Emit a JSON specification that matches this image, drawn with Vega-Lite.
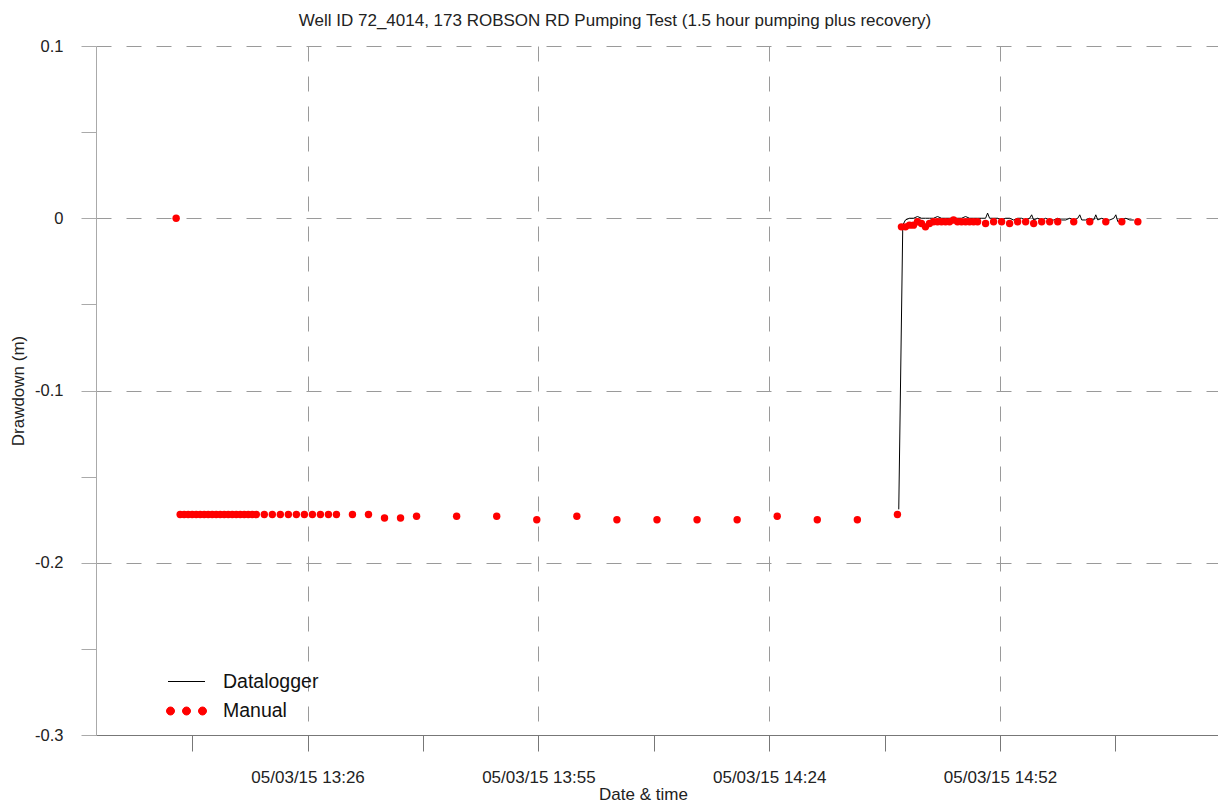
{
  "$schema": "https://vega.github.io/schema/vega-lite/v6.json",
  "autosize": {"type": "none"},
  "padding": {"left": 96, "top": 46, "right": 0, "bottom": 67},
  "width": 1122,
  "height": 689,
  "background": "white",
  "title": {
    "text": "Well ID 72_4014, 173 ROBSON RD Pumping Test (1.5 hour pumping plus recovery)",
    "anchor": "middle",
    "frame": "group",
    "dx": -42,
    "offset": 8,
    "font": "Liberation Sans",
    "fontSize": 17,
    "fontWeight": "normal",
    "color": "#222222"
  },
  "config": {
    "font": "Liberation Sans",
    "view": {"stroke": null},
    "axis": {
      "labelFont": "Liberation Sans",
      "labelFontSize": 16.5,
      "labelColor": "#222222",
      "titleFont": "Liberation Sans",
      "titleFontSize": 17,
      "titleFontWeight": "normal",
      "titleColor": "#222222",
      "gridDash": [15, 15],
      "gridColor": "#9a9a9a",
      "gridWidth": 1,
      "labelOverlap": false,
      "labelFlush": false
    }
  },
  "layer": [
    {
      "data": {
        "values": [
          {"time": "2015-05-03T14:40:10Z", "drawdown": -0.169},
          {"time": "2015-05-03T14:40:40Z", "drawdown": -0.004},
          {"time": "2015-05-03T14:41:00Z", "drawdown": -0.001},
          {"time": "2015-05-03T14:41:30Z", "drawdown": 0.0},
          {"time": "2015-05-03T14:42:00Z", "drawdown": 0.0},
          {"time": "2015-05-03T14:42:30Z", "drawdown": 0.001},
          {"time": "2015-05-03T14:43:00Z", "drawdown": 0.0},
          {"time": "2015-05-03T14:43:30Z", "drawdown": 0.0},
          {"time": "2015-05-03T14:44:00Z", "drawdown": 0.0},
          {"time": "2015-05-03T14:44:30Z", "drawdown": 0.0},
          {"time": "2015-05-03T14:45:00Z", "drawdown": 0.001},
          {"time": "2015-05-03T14:45:30Z", "drawdown": 0.0},
          {"time": "2015-05-03T14:46:00Z", "drawdown": 0.0},
          {"time": "2015-05-03T14:46:30Z", "drawdown": 0.0},
          {"time": "2015-05-03T14:47:00Z", "drawdown": 0.0},
          {"time": "2015-05-03T14:47:30Z", "drawdown": 0.0},
          {"time": "2015-05-03T14:48:00Z", "drawdown": 0.0},
          {"time": "2015-05-03T14:48:30Z", "drawdown": 0.001},
          {"time": "2015-05-03T14:49:00Z", "drawdown": 0.0},
          {"time": "2015-05-03T14:49:30Z", "drawdown": 0.0},
          {"time": "2015-05-03T14:50:00Z", "drawdown": 0.0},
          {"time": "2015-05-03T14:50:30Z", "drawdown": 0.0},
          {"time": "2015-05-03T14:51:00Z", "drawdown": 0.0},
          {"time": "2015-05-03T14:51:15Z", "drawdown": 0.003},
          {"time": "2015-05-03T14:51:30Z", "drawdown": 0.0},
          {"time": "2015-05-03T14:52:00Z", "drawdown": 0.0},
          {"time": "2015-05-03T14:52:30Z", "drawdown": 0.0},
          {"time": "2015-05-03T14:53:00Z", "drawdown": -0.001},
          {"time": "2015-05-03T14:53:30Z", "drawdown": 0.0},
          {"time": "2015-05-03T14:54:00Z", "drawdown": 0.0},
          {"time": "2015-05-03T14:54:30Z", "drawdown": -0.001},
          {"time": "2015-05-03T14:55:00Z", "drawdown": 0.0},
          {"time": "2015-05-03T14:55:30Z", "drawdown": 0.0},
          {"time": "2015-05-03T14:56:00Z", "drawdown": -0.001},
          {"time": "2015-05-03T14:56:30Z", "drawdown": 0.0},
          {"time": "2015-05-03T14:56:45Z", "drawdown": 0.002},
          {"time": "2015-05-03T14:57:00Z", "drawdown": -0.001},
          {"time": "2015-05-03T14:57:30Z", "drawdown": 0.0},
          {"time": "2015-05-03T14:58:00Z", "drawdown": -0.001},
          {"time": "2015-05-03T14:58:30Z", "drawdown": 0.0},
          {"time": "2015-05-03T14:59:00Z", "drawdown": -0.001},
          {"time": "2015-05-03T14:59:30Z", "drawdown": -0.001},
          {"time": "2015-05-03T15:00:00Z", "drawdown": 0.0},
          {"time": "2015-05-03T15:00:30Z", "drawdown": -0.001},
          {"time": "2015-05-03T15:01:00Z", "drawdown": -0.001},
          {"time": "2015-05-03T15:01:30Z", "drawdown": 0.0},
          {"time": "2015-05-03T15:02:00Z", "drawdown": -0.001},
          {"time": "2015-05-03T15:02:30Z", "drawdown": 0.0},
          {"time": "2015-05-03T15:02:45Z", "drawdown": 0.002},
          {"time": "2015-05-03T15:03:00Z", "drawdown": -0.001},
          {"time": "2015-05-03T15:03:30Z", "drawdown": -0.001},
          {"time": "2015-05-03T15:04:00Z", "drawdown": 0.0},
          {"time": "2015-05-03T15:04:30Z", "drawdown": -0.001},
          {"time": "2015-05-03T15:04:45Z", "drawdown": 0.002},
          {"time": "2015-05-03T15:05:00Z", "drawdown": -0.001},
          {"time": "2015-05-03T15:05:30Z", "drawdown": 0.0},
          {"time": "2015-05-03T15:06:00Z", "drawdown": -0.001},
          {"time": "2015-05-03T15:06:30Z", "drawdown": -0.001},
          {"time": "2015-05-03T15:07:00Z", "drawdown": 0.0},
          {"time": "2015-05-03T15:07:15Z", "drawdown": 0.002},
          {"time": "2015-05-03T15:07:30Z", "drawdown": -0.002},
          {"time": "2015-05-03T15:08:00Z", "drawdown": -0.001},
          {"time": "2015-05-03T15:08:30Z", "drawdown": 0.0},
          {"time": "2015-05-03T15:09:00Z", "drawdown": -0.001},
          {"time": "2015-05-03T15:09:30Z", "drawdown": -0.001}
        ]
      },
      "mark": {"type": "line", "color": "#000000", "strokeWidth": 1, "clip": true},
      "encoding": {
        "x": {
          "field": "time",
          "type": "temporal",
          "scale": {"type": "utc", "domain": [1430658000000, 1430666400000], "nice": false},
          "axis": {
            "values": [1430658720000, 1430659584000, 1430660448000, 1430661312000, 1430662176000, 1430663040000, 1430663904000, 1430664768000, 1430665632000],
            "labelExpr": "round((time(datum.value) - 1430611200000) / 864000) % 2 == 0 ? utcFormat(datum.value, '%m/%d/%y %H:%M') : ''",
            "gridOpacity": {"condition": {"test": "round((time(datum.value) - 1430611200000) / 864000) % 2 == 0", "value": 1}, "value": 0},
            "grid": true,
            "domainColor": "#777777",
            "tickColor": "#777777",
            "tickSize": 16,
            "labelPadding": 18,
            "labelFontSize": 17,
            "labelAngle": 0,
            "title": "Date & time",
            "titleX": 547,
            "titleY": 64,
            "titleBaseline": "alphabetic",
            "titleAlign": "center"
          }
        },
        "y": {
          "field": "drawdown",
          "type": "quantitative",
          "scale": {"domain": [-0.3, 0.1], "nice": false, "zero": false},
          "axis": {
            "values": [-0.3, -0.25, -0.2, -0.15, -0.1, -0.05, 0, 0.05, 0.1],
            "labelExpr": "abs(datum.value * 10 - round(datum.value * 10)) < 0.001 ? '' + round(datum.value * 10) / 10 : ''",
            "gridOpacity": {"condition": {"test": "abs(datum.value * 10 - round(datum.value * 10)) < 0.001", "value": 1}, "value": 0},
            "grid": true,
            "domainColor": "#aaaaaa",
            "tickColor": "#aaaaaa",
            "tickSize": 15,
            "labelPadding": 18,
            "title": "Drawdown (m)",
            "titleX": -77.5,
            "titleY": 344.5,
            "titleAngle": -90,
            "titleAlign": "center",
            "titleBaseline": "middle"
          }
        }
      }
    },
    {
      "data": {
        "values": [
          {"time": "2015-05-03T13:10:00Z", "drawdown": 0.0},
          {"time": "2015-05-03T13:10:30Z", "drawdown": -0.172},
          {"time": "2015-05-03T13:11:00Z", "drawdown": -0.172},
          {"time": "2015-05-03T13:11:30Z", "drawdown": -0.172},
          {"time": "2015-05-03T13:12:00Z", "drawdown": -0.172},
          {"time": "2015-05-03T13:12:30Z", "drawdown": -0.172},
          {"time": "2015-05-03T13:13:00Z", "drawdown": -0.172},
          {"time": "2015-05-03T13:13:30Z", "drawdown": -0.172},
          {"time": "2015-05-03T13:14:00Z", "drawdown": -0.172},
          {"time": "2015-05-03T13:14:30Z", "drawdown": -0.172},
          {"time": "2015-05-03T13:15:00Z", "drawdown": -0.172},
          {"time": "2015-05-03T13:15:30Z", "drawdown": -0.172},
          {"time": "2015-05-03T13:16:00Z", "drawdown": -0.172},
          {"time": "2015-05-03T13:16:30Z", "drawdown": -0.172},
          {"time": "2015-05-03T13:17:00Z", "drawdown": -0.172},
          {"time": "2015-05-03T13:17:30Z", "drawdown": -0.172},
          {"time": "2015-05-03T13:18:00Z", "drawdown": -0.172},
          {"time": "2015-05-03T13:18:30Z", "drawdown": -0.172},
          {"time": "2015-05-03T13:19:00Z", "drawdown": -0.172},
          {"time": "2015-05-03T13:19:30Z", "drawdown": -0.172},
          {"time": "2015-05-03T13:20:00Z", "drawdown": -0.172},
          {"time": "2015-05-03T13:21:00Z", "drawdown": -0.172},
          {"time": "2015-05-03T13:22:00Z", "drawdown": -0.172},
          {"time": "2015-05-03T13:23:00Z", "drawdown": -0.172},
          {"time": "2015-05-03T13:24:00Z", "drawdown": -0.172},
          {"time": "2015-05-03T13:25:00Z", "drawdown": -0.172},
          {"time": "2015-05-03T13:26:00Z", "drawdown": -0.172},
          {"time": "2015-05-03T13:27:00Z", "drawdown": -0.172},
          {"time": "2015-05-03T13:28:00Z", "drawdown": -0.172},
          {"time": "2015-05-03T13:29:00Z", "drawdown": -0.172},
          {"time": "2015-05-03T13:30:00Z", "drawdown": -0.172},
          {"time": "2015-05-03T13:32:00Z", "drawdown": -0.172},
          {"time": "2015-05-03T13:34:00Z", "drawdown": -0.172},
          {"time": "2015-05-03T13:36:00Z", "drawdown": -0.174},
          {"time": "2015-05-03T13:38:00Z", "drawdown": -0.174},
          {"time": "2015-05-03T13:40:00Z", "drawdown": -0.173},
          {"time": "2015-05-03T13:45:00Z", "drawdown": -0.173},
          {"time": "2015-05-03T13:50:00Z", "drawdown": -0.173},
          {"time": "2015-05-03T13:55:00Z", "drawdown": -0.175},
          {"time": "2015-05-03T14:00:00Z", "drawdown": -0.173},
          {"time": "2015-05-03T14:05:00Z", "drawdown": -0.175},
          {"time": "2015-05-03T14:10:00Z", "drawdown": -0.175},
          {"time": "2015-05-03T14:15:00Z", "drawdown": -0.175},
          {"time": "2015-05-03T14:20:00Z", "drawdown": -0.175},
          {"time": "2015-05-03T14:25:00Z", "drawdown": -0.173},
          {"time": "2015-05-03T14:30:00Z", "drawdown": -0.175},
          {"time": "2015-05-03T14:35:00Z", "drawdown": -0.175},
          {"time": "2015-05-03T14:40:00Z", "drawdown": -0.172},
          {"time": "2015-05-03T14:40:30Z", "drawdown": -0.005},
          {"time": "2015-05-03T14:41:00Z", "drawdown": -0.005},
          {"time": "2015-05-03T14:41:30Z", "drawdown": -0.004},
          {"time": "2015-05-03T14:42:00Z", "drawdown": -0.004},
          {"time": "2015-05-03T14:42:30Z", "drawdown": -0.002},
          {"time": "2015-05-03T14:43:00Z", "drawdown": -0.003},
          {"time": "2015-05-03T14:43:30Z", "drawdown": -0.005},
          {"time": "2015-05-03T14:44:00Z", "drawdown": -0.003},
          {"time": "2015-05-03T14:44:30Z", "drawdown": -0.002},
          {"time": "2015-05-03T14:45:00Z", "drawdown": -0.002},
          {"time": "2015-05-03T14:45:30Z", "drawdown": -0.002},
          {"time": "2015-05-03T14:46:00Z", "drawdown": -0.002},
          {"time": "2015-05-03T14:46:30Z", "drawdown": -0.002},
          {"time": "2015-05-03T14:47:00Z", "drawdown": -0.001},
          {"time": "2015-05-03T14:47:30Z", "drawdown": -0.002},
          {"time": "2015-05-03T14:48:00Z", "drawdown": -0.002},
          {"time": "2015-05-03T14:48:30Z", "drawdown": -0.002},
          {"time": "2015-05-03T14:49:00Z", "drawdown": -0.002},
          {"time": "2015-05-03T14:49:30Z", "drawdown": -0.002},
          {"time": "2015-05-03T14:50:00Z", "drawdown": -0.002},
          {"time": "2015-05-03T14:51:00Z", "drawdown": -0.003},
          {"time": "2015-05-03T14:52:00Z", "drawdown": -0.002},
          {"time": "2015-05-03T14:53:00Z", "drawdown": -0.002},
          {"time": "2015-05-03T14:54:00Z", "drawdown": -0.003},
          {"time": "2015-05-03T14:55:00Z", "drawdown": -0.002},
          {"time": "2015-05-03T14:56:00Z", "drawdown": -0.002},
          {"time": "2015-05-03T14:57:00Z", "drawdown": -0.003},
          {"time": "2015-05-03T14:58:00Z", "drawdown": -0.002},
          {"time": "2015-05-03T14:59:00Z", "drawdown": -0.002},
          {"time": "2015-05-03T15:00:00Z", "drawdown": -0.002},
          {"time": "2015-05-03T15:02:00Z", "drawdown": -0.002},
          {"time": "2015-05-03T15:04:00Z", "drawdown": -0.002},
          {"time": "2015-05-03T15:06:00Z", "drawdown": -0.002},
          {"time": "2015-05-03T15:08:00Z", "drawdown": -0.002},
          {"time": "2015-05-03T15:10:00Z", "drawdown": -0.002}
        ]
      },
      "mark": {"type": "point", "filled": true, "size": 55, "opacity": 1, "strokeWidth": 0, "color": "#ff0000"},
      "encoding": {
        "x": {"field": "time", "type": "temporal"},
        "y": {"field": "drawdown", "type": "quantitative"}
      }
    },
    {
      "data": {"values": []},
      "mark": {"type": "point", "filled": true, "opacity": 1, "strokeWidth": 1},
      "encoding": {
        "x": {"field": "time", "type": "temporal"},
        "y": {"field": "drawdown", "type": "quantitative"},
        "color": {
          "field": "series",
          "type": "nominal",
          "scale": {"domain": ["Datalogger", "Manual"], "range": ["#000000", "#ff0000"]},
          "legend": {
            "title": null,
            "orient": "none",
            "legendX": 80,
            "legendY": 625,
            "symbolSize": 400,
            "symbolStrokeWidth": 1,
            "labelFont": "Liberation Sans",
            "labelFontSize": 19.5,
            "labelColor": "#111111",
            "labelOffset": 26,
            "rowPadding": 9.5
          }
        },
        "stroke": {
          "field": "series",
          "type": "nominal",
          "scale": {"domain": ["Datalogger", "Manual"], "range": ["#000000", "#ff0000"]},
          "legend": {
            "title": null,
            "orient": "none",
            "legendX": 80,
            "legendY": 625,
            "symbolSize": 400,
            "symbolStrokeWidth": 1,
            "labelFont": "Liberation Sans",
            "labelFontSize": 19.5,
            "labelColor": "#111111",
            "labelOffset": 26,
            "rowPadding": 9.5
          }
        },
        "shape": {
          "field": "series",
          "type": "nominal",
          "scale": {"domain": ["Datalogger", "Manual"], "range": ["M-1.85,0L1.85,0", "M-2,0A0.4,0.4,0,1,0,-1.2,0A0.4,0.4,0,1,0,-2,0ZM-0.4,0A0.4,0.4,0,1,0,0.4,0A0.4,0.4,0,1,0,-0.4,0ZM1.2,0A0.4,0.4,0,1,0,2,0A0.4,0.4,0,1,0,1.2,0Z"]},
          "legend": {
            "title": null,
            "orient": "none",
            "legendX": 80,
            "legendY": 625,
            "symbolSize": 400,
            "symbolStrokeWidth": 1,
            "labelFont": "Liberation Sans",
            "labelFontSize": 19.5,
            "labelColor": "#111111",
            "labelOffset": 26,
            "rowPadding": 9.5
          }
        }
      }
    }
  ]
}
